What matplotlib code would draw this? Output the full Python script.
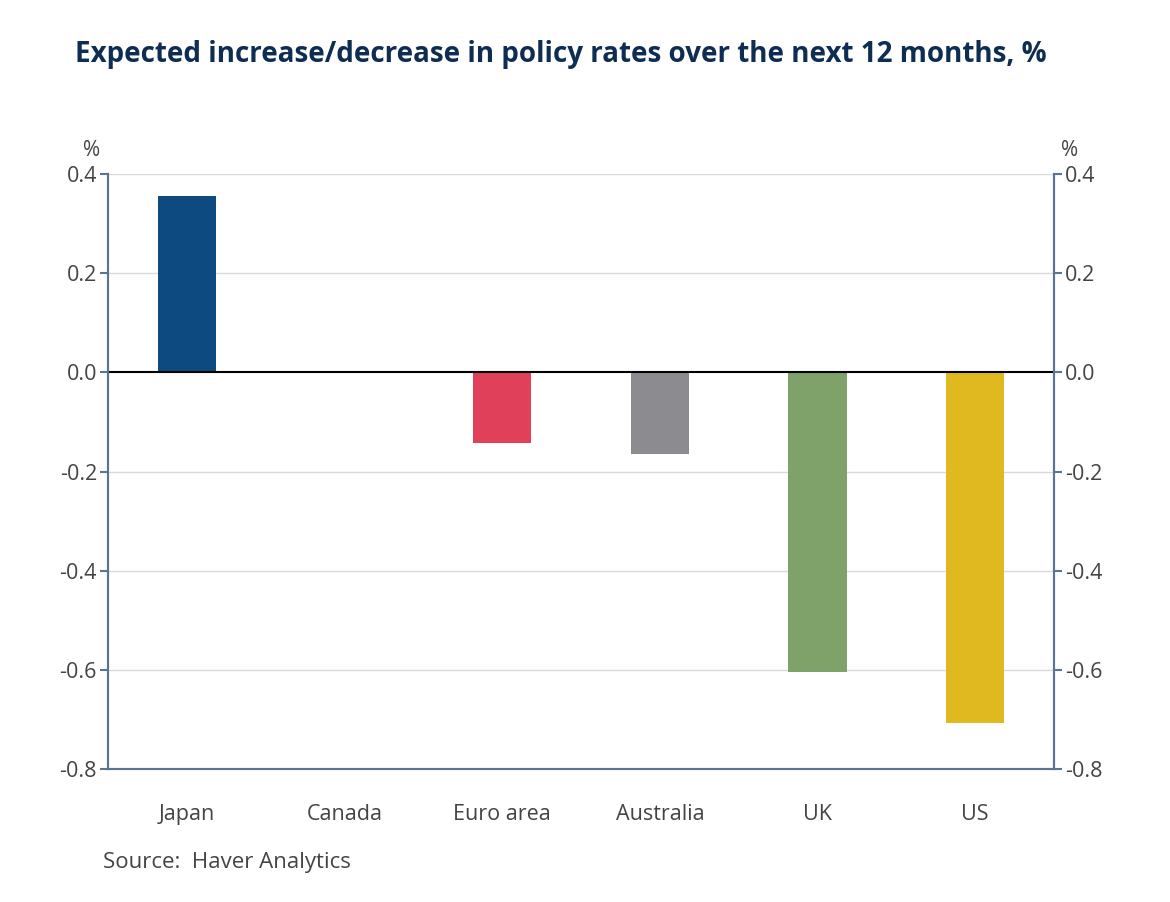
import matplotlib
matplotlib.use("Agg")
import matplotlib.pyplot as plt

plt.rcParams['font.family'] = ['Open Sans', 'DejaVu Sans']

countries = ['Japan', 'Canada', 'Euro area', 'Australia', 'UK', 'US']
rates = [0.356, 0.0, -0.143, -0.164, -0.604, -0.707]
colors = ['#0d4a80', '#4a7ab0', '#e0405a', '#8c8b90', '#7ea26a', '#e0b81f']
yticks = [0.4, 0.2, 0.0, -0.2, -0.4, -0.6, -0.8]

spine_col = '#5b7591'
text_col = '#444444'

fig = plt.figure(figsize=(11.7, 9.02), dpi=100)
ax = fig.add_axes([0.0923, 0.1475, 0.8086, 0.6595])

# grid lines
for y in yticks:
    if y != 0:
        ax.axhline(y, color='#d9d9d9', lw=1, zorder=0)

ax.bar(range(len(countries)), rates, width=0.37, color=colors, zorder=2)
ax.axhline(0, color='black', lw=1.5, zorder=3)

ax.set_xlim(-0.5, len(countries) - 0.5)
ax.set_ylim(-0.8, 0.4)
ax.set_yticks(yticks)
ax.set_yticklabels(['%.1f' % v for v in yticks])
ax.set_xticks(range(len(countries)))
ax.set_xticklabels(countries)

ax2 = ax.twinx()
ax2.set_ylim(-0.8, 0.4)
ax2.set_yticks(yticks)
ax2.set_yticklabels(['%.1f' % v for v in yticks])

for a in (ax, ax2):
    a.spines['top'].set_visible(False)
    for s in ('left', 'right', 'bottom'):
        a.spines[s].set_color(spine_col)
        a.spines[s].set_linewidth(1.5)
    a.tick_params(axis='y', colors=spine_col, labelcolor=text_col, labelsize=15.5,
                  length=6, width=1.5, pad=2)
ax.tick_params(axis='x', length=0, labelcolor=text_col, labelsize=15.5, pad=25)

fig.text(0.0786, 0.821, '%', fontsize=15, color=text_col, ha='center', va='bottom')
fig.text(0.914, 0.821, '%', fontsize=15, color=text_col, ha='center', va='bottom')

fig.text(0.479, 0.94, 'Expected increase/decrease in policy rates over the next 12 months, %',
         fontsize=20, fontweight='bold', color='#0d2d52', ha='center', va='center')
fig.text(0.088, 0.044, 'Source:  Haver Analytics', fontsize=16, color=text_col,
         ha='left', va='center')

fig.savefig('out.png', dpi=100)
